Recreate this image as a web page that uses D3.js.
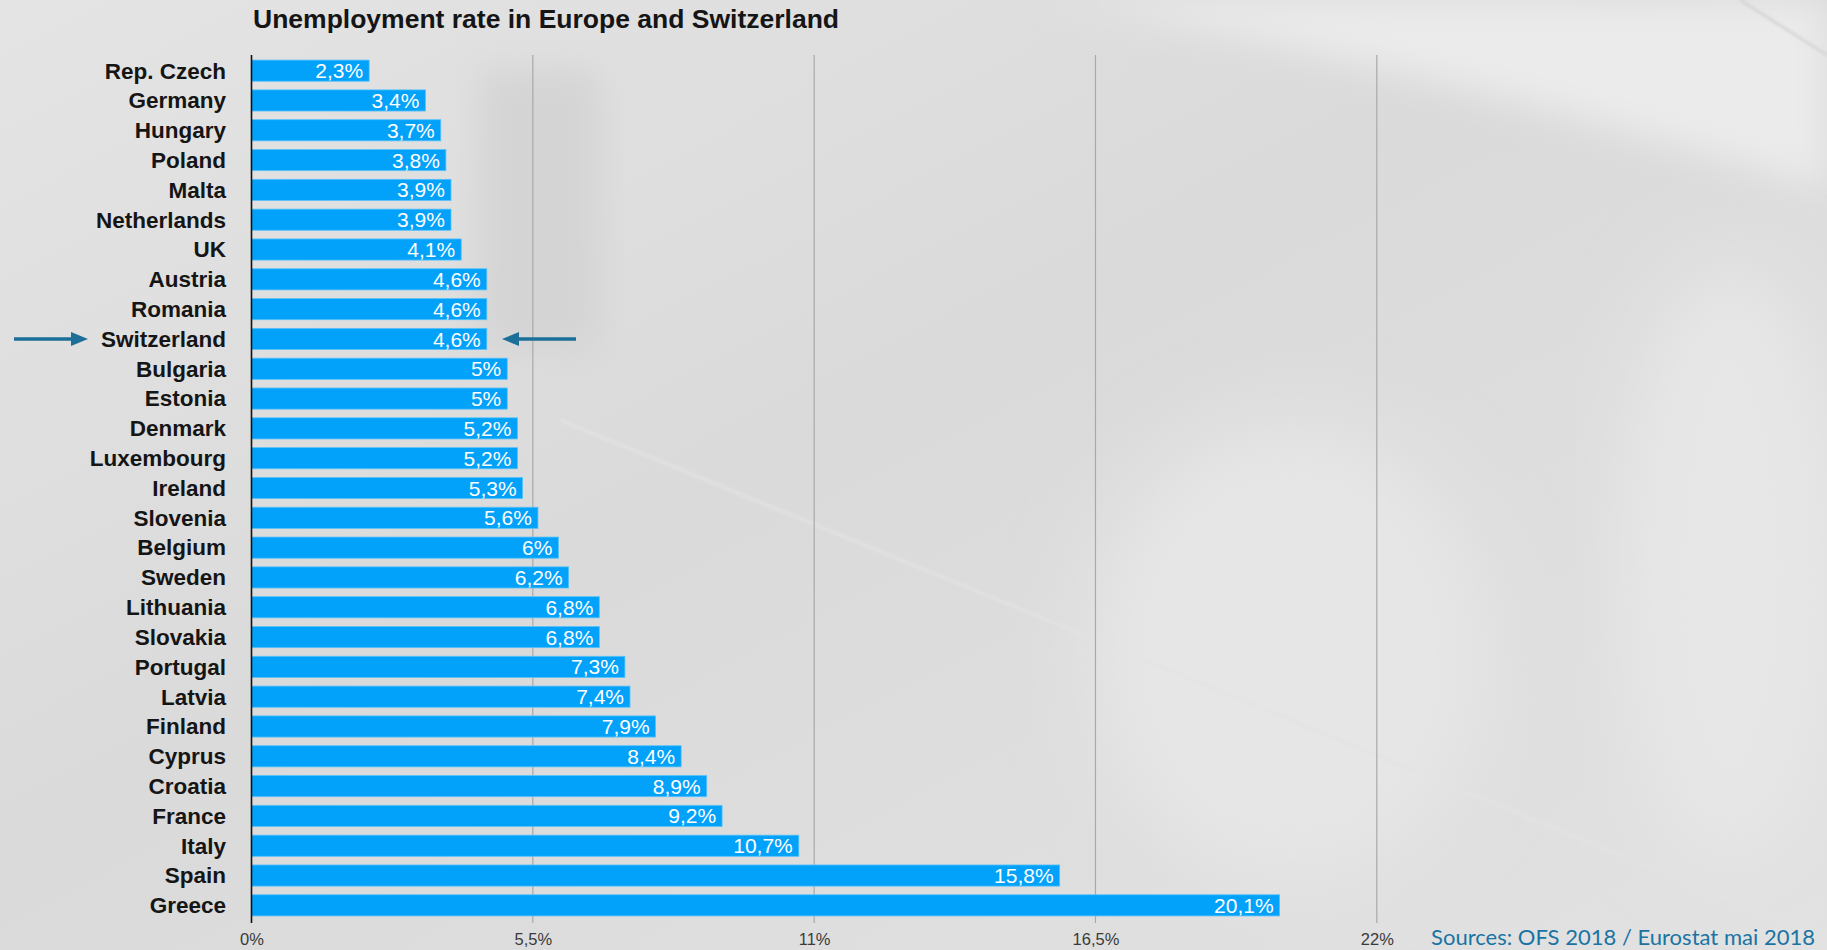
<!DOCTYPE html>
<html>
<head>
<meta charset="utf-8">
<script src="https://cdn.jsdelivr.net/npm/d3@7"></script>
<style>
  html, body { margin: 0; padding: 0; background: #dedede; }
  svg { display: block; }
</style>
</head>
<body>
<svg id="chart" width="1827" height="950"></svg>
<script>
// Unemployment rate (%) by country, sorted ascending
const countries = [
  "Rep. Czech", "Germany", "Hungary", "Poland", "Malta", "Netherlands", "UK",
  "Austria", "Romania", "Switzerland", "Bulgaria", "Estonia", "Denmark",
  "Luxembourg", "Ireland", "Slovenia", "Belgium", "Sweden", "Lithuania",
  "Slovakia", "Portugal", "Latvia", "Finland", "Cyprus", "Croatia", "France",
  "Italy", "Spain", "Greece"
];
const rates = [
  2.3, 3.4, 3.7, 3.8, 3.9, 3.9, 4.1,
  4.6, 4.6, 4.6, 5.0, 5.0, 5.2,
  5.2, 5.3, 5.6, 6.0, 6.2, 6.8,
  6.8, 7.3, 7.4, 7.9, 8.4, 8.9, 9.2,
  10.7, 15.8, 20.1
];
const tickValues = [0, 5.5, 11, 16.5, 22];
const highlighted = "Switzerland";

const titleText = "Unemployment rate in Europe and Switzerland";
const sourceText = "Sources: OFS 2018 / Eurostat mai 2018";

const data = countries.map((c, i) => ({ country: c, rate: rates[i] }));
const fmt = v => String(v).replace(".", ",") + "%";

const svg = d3.select("#chart");
const W = 1827, H = 950;

// ---- soft blurred backdrop ----
const defs = svg.append("defs");
const bg = defs.append("linearGradient").attr("id", "bgGrad")
  .attr("x1", 0).attr("y1", 0).attr("x2", 1).attr("y2", 1);
bg.append("stop").attr("offset", "0%").attr("stop-color", "#e4e4e4");
bg.append("stop").attr("offset", "45%").attr("stop-color", "#dadada");
bg.append("stop").attr("offset", "100%").attr("stop-color", "#e2e2e2");
defs.append("filter").attr("id", "soft").attr("x", "-20%").attr("y", "-20%")
  .attr("width", "140%").attr("height", "140%")
  .append("feGaussianBlur").attr("stdDeviation", 18);
defs.append("filter").attr("id", "softer").attr("x", "-20%").attr("y", "-20%")
  .attr("width", "140%").attr("height", "140%")
  .append("feGaussianBlur").attr("stdDeviation", 40);
defs.append("filter").attr("id", "thin")
  .append("feGaussianBlur").attr("stdDeviation", 1.5);

svg.append("rect").attr("width", W).attr("height", H).attr("fill", "url(#bgGrad)");
const deco = svg.append("g");
deco.append("path")
  .attr("d", "M1050,0 C1300,40 1600,120 1827,190 L1827,0 Z")
  .attr("fill", "#ebebeb").attr("filter", "url(#soft)");
deco.append("ellipse").attr("cx", 1290).attr("cy", 650).attr("rx", 200).attr("ry", 230)
  .attr("fill", "#e6e6e6").attr("filter", "url(#softer)");
deco.append("ellipse").attr("cx", 1730).attr("cy", 560).attr("rx", 110).attr("ry", 300)
  .attr("fill", "#e7e7e7").attr("filter", "url(#softer)");
deco.append("rect").attr("x", 480).attr("y", 70).attr("width", 120).attr("height", 280)
  .attr("fill", "#d4d4d4").attr("filter", "url(#soft)");
deco.append("line").attr("x1", 560).attr("y1", 420).attr("x2", 1827).attr("y2", 940)
  .attr("stroke", "#e3e3e3").attr("stroke-width", 2.5).attr("filter", "url(#thin)");
deco.append("line").attr("x1", 1740).attr("y1", 0).attr("x2", 1827).attr("y2", 55)
  .attr("stroke", "#cdcdcd").attr("stroke-width", 2).attr("filter", "url(#thin)");

// ---- scales ----
const x = d3.scaleLinear().domain([0, 22]).range([251.5, 1376.8]);
const y = d3.scaleBand().domain(countries).range([55, 921])
  .paddingInner(0.29).paddingOuter(0.17);

// ---- title ----
svg.append("text")
  .attr("x", 253).attr("y", 28)
  .attr("font-family", "'Liberation Sans', Arial, Helvetica, sans-serif")
  .attr("font-weight", "bold").attr("font-size", 26.5).attr("fill", "#151515")
  .text(titleText);

// ---- gridlines ----
svg.append("g").selectAll("line")
  .data(tickValues.filter(v => v > 0))
  .join("line")
  .attr("x1", d => x(d)).attr("x2", d => x(d))
  .attr("y1", 55).attr("y2", 923)
  .attr("stroke", "#a9a9a9").attr("stroke-width", 1.2);

// ---- bottom axis labels ----
const xAxis = d3.axisBottom(x).tickValues(tickValues).tickSize(0).tickPadding(0)
  .tickFormat(d => fmt(d));
const gx = svg.append("g").attr("transform", "translate(0,933)").call(xAxis);
gx.select(".domain").remove();
gx.selectAll("text")
  .attr("font-family", "'Liberation Sans', Arial, Helvetica, sans-serif")
  .attr("font-size", 16.5).attr("fill", "#3a3a3a").attr("dy", "0.71em");

// ---- bars ----
svg.append("g").selectAll("rect")
  .data(data)
  .join("rect")
  .attr("x", x(0))
  .attr("y", d => y(d.country))
  .attr("width", d => x(d.rate) - x(0))
  .attr("height", y.bandwidth())
  .attr("fill", "#02a2fb")
  .attr("stroke", "#59c2fa").attr("stroke-width", 0.8);

// ---- value labels ----
svg.append("g").selectAll("text")
  .data(data)
  .join("text")
  .attr("x", d => x(d.rate) - 6)
  .attr("y", d => y(d.country) + y.bandwidth() / 2)
  .attr("dy", "0.36em")
  .attr("text-anchor", "end")
  .attr("font-family", "'Liberation Sans', Arial, Helvetica, sans-serif")
  .attr("font-size", 21).attr("fill", "#ffffff")
  .text(d => fmt(d.rate));

// ---- category axis (left) ----
const yAxis = d3.axisLeft(y).tickSize(0).tickPadding(0);
const gy = svg.append("g").attr("transform", "translate(226,0)").call(yAxis);
gy.select(".domain").remove();
gy.selectAll("text")
  .attr("font-family", "'Liberation Sans', Arial, Helvetica, sans-serif")
  .attr("font-weight", "bold").attr("font-size", 22.5).attr("fill", "#151515")
  .attr("dy", "0.35em");

// zero line
svg.append("line")
  .attr("x1", x(0)).attr("x2", x(0)).attr("y1", 55).attr("y2", 923)
  .attr("stroke", "#111").attr("stroke-width", 1.6);

// ---- arrows pointing at the highlighted row ----
const hy = y(highlighted) + y.bandwidth() / 2;
const arrowColor = "#1c6f98";
function arrow(xFrom, xTip) {
  const dir = Math.sign(xTip - xFrom);
  const headLen = 17, headHalf = 7;
  const g = svg.append("g");
  g.append("line")
    .attr("x1", xFrom).attr("x2", xTip - dir * headLen * 0.8)
    .attr("y1", hy).attr("y2", hy)
    .attr("stroke", arrowColor).attr("stroke-width", 3.4);
  g.append("path")
    .attr("d", `M${xTip},${hy} L${xTip - dir * headLen},${hy - headHalf} L${xTip - dir * headLen},${hy + headHalf} Z`)
    .attr("fill", arrowColor);
}
arrow(14, 88);
arrow(576, 502);

// ---- source note ----
svg.append("text")
  .attr("x", 1815).attr("y", 945)
  .attr("text-anchor", "end")
  .attr("font-family", "Lato, 'Open Sans', sans-serif")
  .attr("font-weight", 400).attr("font-size", 22).attr("fill", "#1a74a3")
  .attr("textLength", 384).attr("lengthAdjust", "spacingAndGlyphs")
  .text(sourceText);
</script>
</body>
</html>
